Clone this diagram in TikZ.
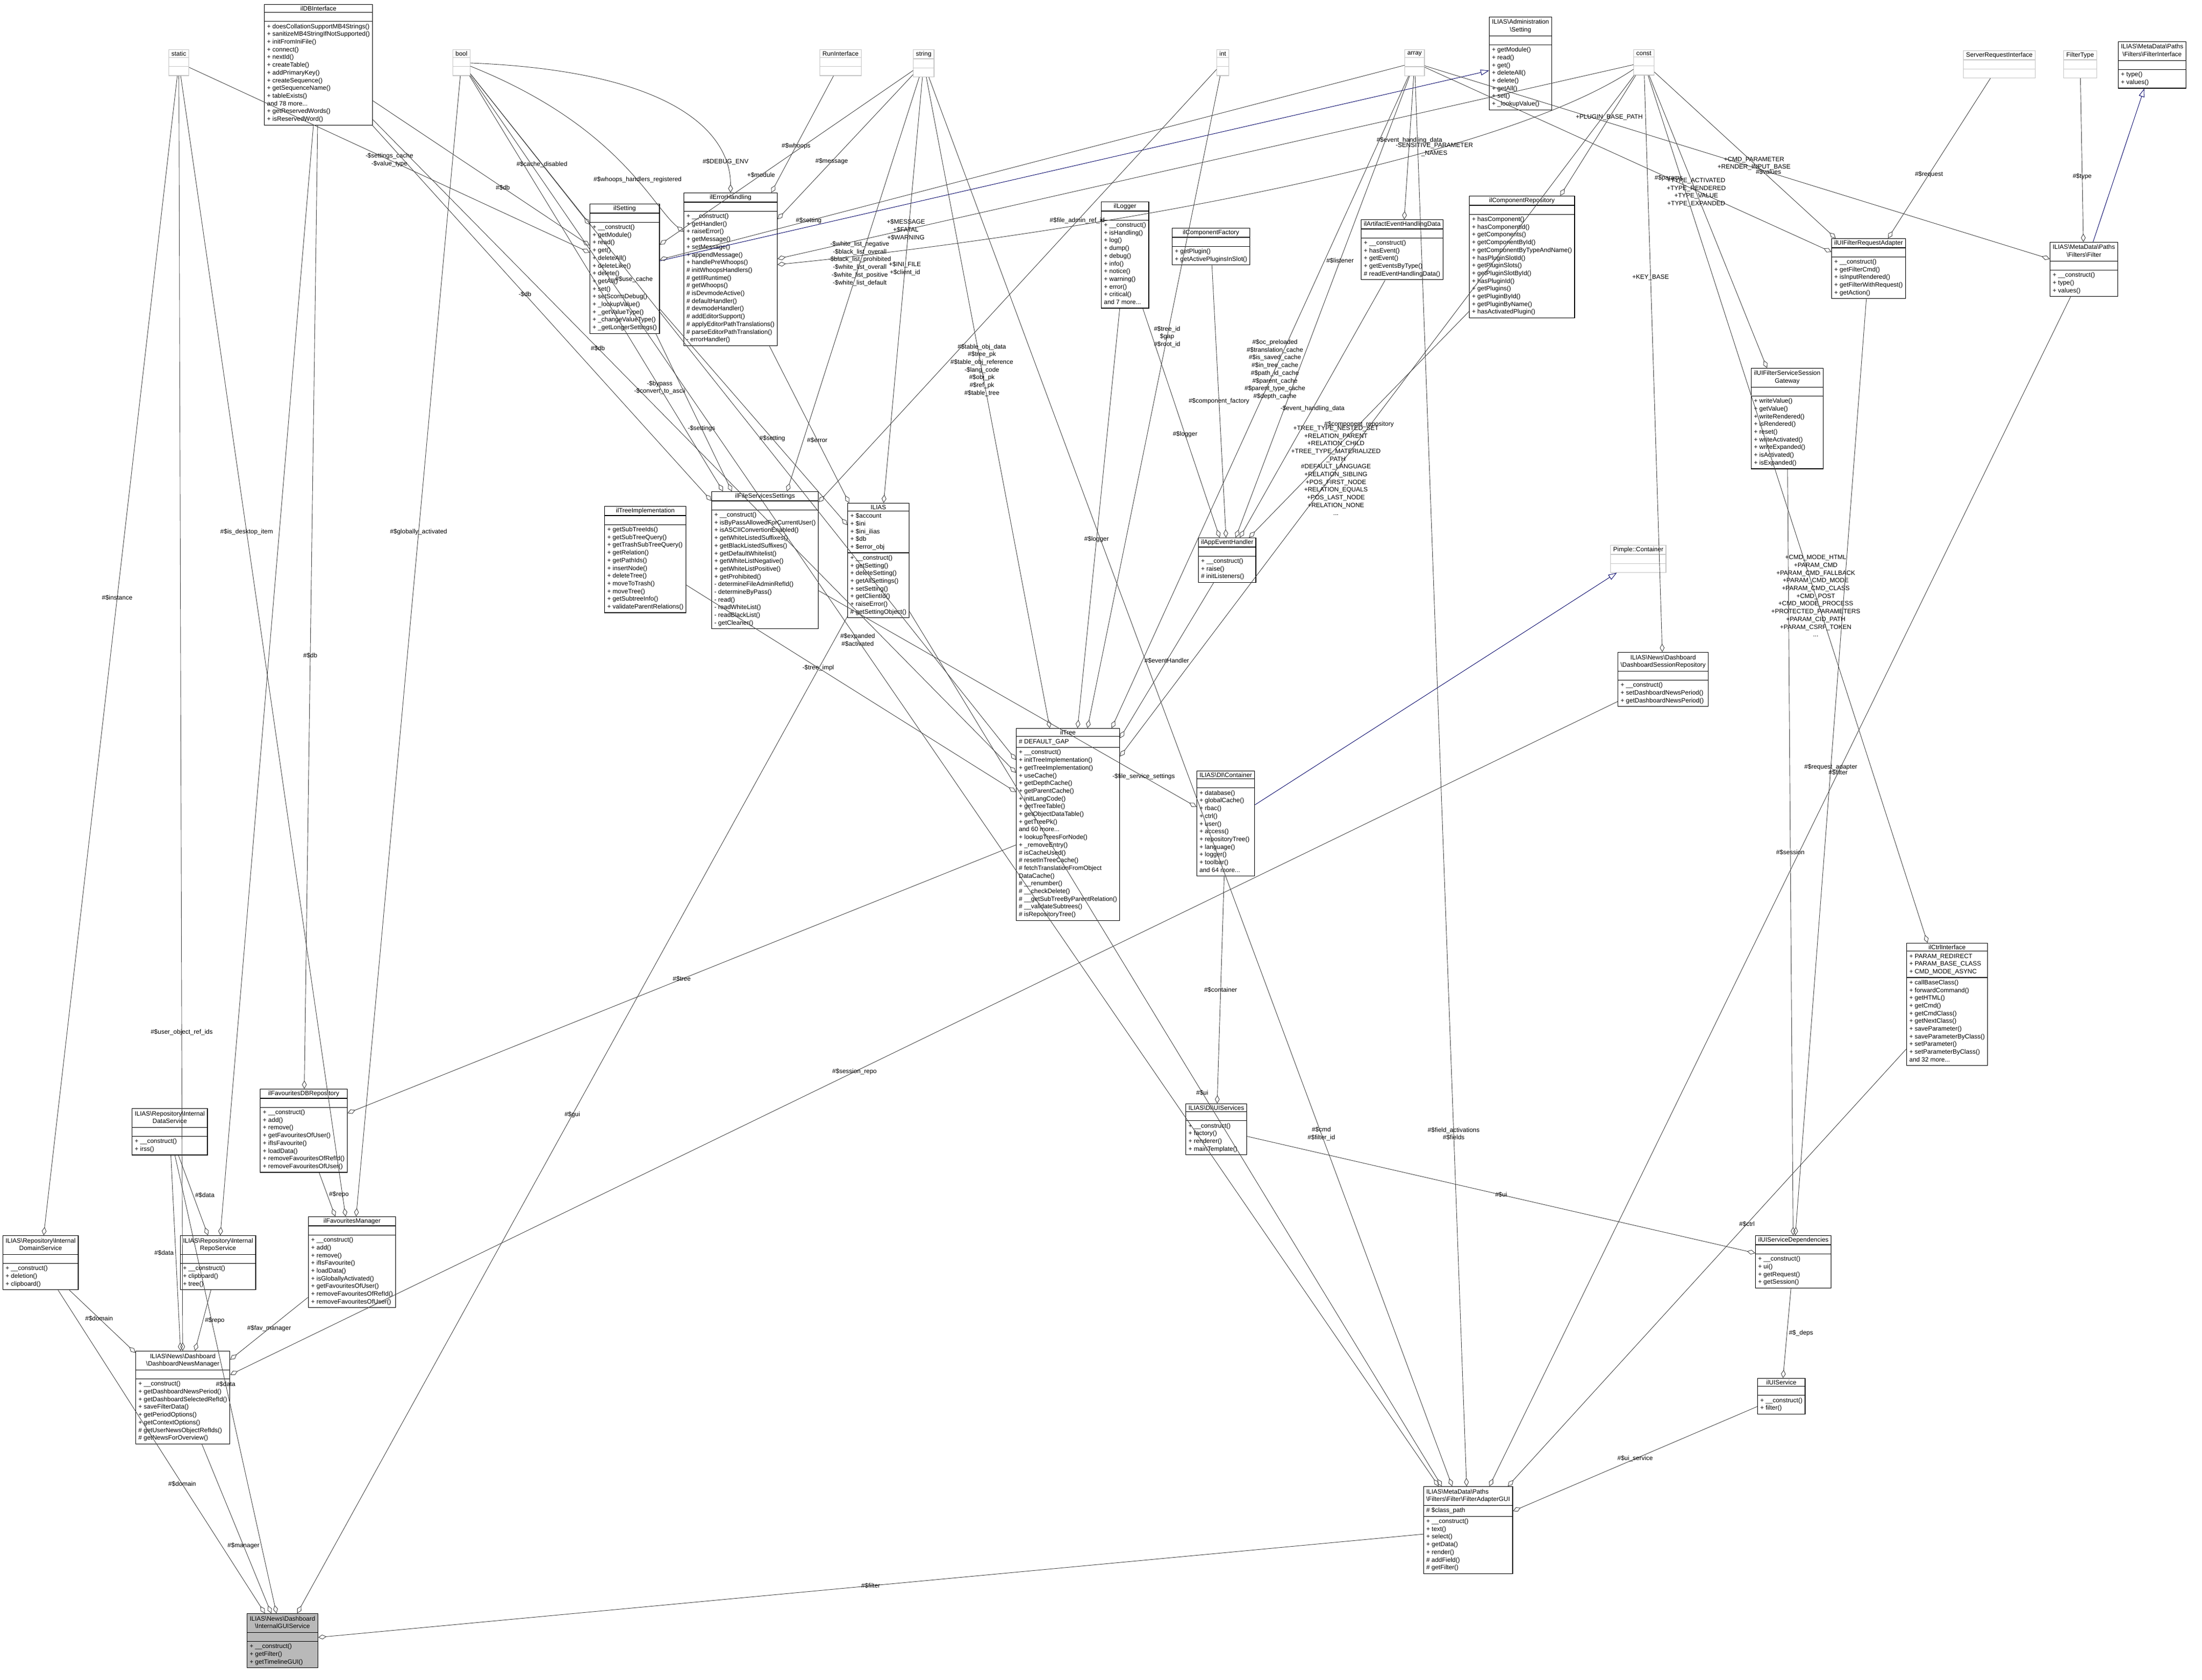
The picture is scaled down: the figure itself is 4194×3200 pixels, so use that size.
\documentclass[tikz,border=0pt]{standalone}
\usepackage{fontspec}
\setmainfont{Liberation Sans}
\usetikzlibrary{shapes.multipart}
\usetikzlibrary{arrows.meta}
\newcommand\dxfont{\fontsize{12}{14.7}\selectfont}
\newcommand\ml[1]{\begin{tabular}{@{}l@{}}#1\end{tabular}}
\newcommand\mc[1]{\begin{tabular}{@{}c@{}}#1\end{tabular}}
\newcommand\cn{\_\_construct()}
\tikzset{cls/.style={rectangle split, rectangle split parts=3, draw=black, line width=1.2pt,
inner xsep=5pt, inner ysep=2.5pt, rectangle split part align={center,left,left},
rectangle split empty part height=11pt, font=\dxfont, anchor=north west},
ext/.style={cls, draw=gray!45},
cur/.style={cls, rectangle split part fill={gray!55}},
mem/.style={draw=black!75, line width=0.9pt, -{Diamond[open,length=16pt,width=9pt]}},
isa/.style={draw=blue!40!black, line width=0.9pt, -{Triangle[open,length=16pt,width=11pt]}},
lbl/.style={font=\dxfont, align=center}}
\begin{document}
\begin{tikzpicture}[x=1pt, y=-1pt]
\useasboundingbox (0,0) rectangle (4194,3200);

% types without documentation
\node[ext] (stat) at (321,94) {static\nodepart{two}\nodepart{three}};
\node[ext] (bool) at (862,94) {bool\nodepart{two}\nodepart{three}};
\node[ext] (run) at (1561,94) {RunInterface\nodepart{two}\nodepart{three}};
\node[ext] (str) at (1739,94) {string\nodepart{two}\nodepart{three}};
\node[ext] (int) at (2317,94) {int\nodepart{two}\nodepart{three}};
\node[ext] (arr) at (2675,94) {array\nodepart{two}\nodepart{three}};
\node[ext] (cnst) at (3111,94) {const\nodepart{two}\nodepart{three}};
\node[ext] (sri) at (3739,96) {ServerRequestInterface\nodepart{two}\nodepart{three}};
\node[ext] (ftype) at (3930,96) {FilterType\nodepart{two}\nodepart{three}};
\node[ext] (pimple) at (3067,1038) {Pimple::Container\nodepart{two}\nodepart{three}};

% classes
\node[cls] (dbi) at (503,8) {ilDBInterface\nodepart{two}\nodepart{three}\ml{+ doesCollationSupportMB4Strings()\\+ sanitizeMB4StringIfNotSupported()\\+ initFromIniFile()\\+ connect()\\+ nextId()\\+ createTable()\\+ addPrimaryKey()\\+ createSequence()\\+ getSequenceName()\\+ tableExists()\\and 78 more...\\+ getReservedWords()\\+ isReservedWord()}};
\node[cls] (set) at (2836,32) {\mc{ILIAS\textbackslash Administration\\\textbackslash Setting}\nodepart{two}\nodepart{three}\ml{+ getModule()\\+ read()\\+ get()\\+ deleteAll()\\+ delete()\\+ getAll()\\+ set()\\+ \_lookupValue()}};
\node[cls] (fint) at (4034,79) {\mc{ILIAS\textbackslash MetaData\textbackslash Paths\\\textbackslash Filters\textbackslash FilterInterface}\nodepart{two}\nodepart{three}\ml{+ type()\\+ values()}};
\node[cls] (ilset) at (1123,388) {ilSetting\nodepart{two}\nodepart{three}\ml{+ \cn\\+ getModule()\\+ read()\\+ get()\\+ deleteAll()\\+ deleteLike()\\+ delete()\\+ getAll()\\+ set()\\+ setScormDebug()\\+ \_lookupValue()\\+ \_getValueType()\\+ \_changeValueType()\\+ \_getLongerSettings()}};
\node[cls] (err) at (1302,367) {ilErrorHandling\nodepart{two}\nodepart{three}\ml{+ \cn\\+ getHandler()\\+ raiseError()\\+ getMessage()\\+ setMessage()\\+ appendMessage()\\+ handlePreWhoops()\\\# initWhoopsHandlers()\\\# getIlRuntime()\\\# getWhoops()\\\# isDevmodeActive()\\\# defaultHandler()\\\# devmodeHandler()\\\# addEditorSupport()\\\# applyEditorPathTranslations()\\\# parseEditorPathTranslation()\\- errorHandler()}};
\node[cls] (log) at (2097,384) {ilLogger\nodepart{two}\nodepart{three}\ml{+ \cn\\+ isHandling()\\+ log()\\+ dump()\\+ debug()\\+ info()\\+ notice()\\+ warning()\\+ error()\\+ critical()\\and 7 more...}};
\node[cls] (cfac) at (2232,434) {ilComponentFactory\nodepart{two}\nodepart{three}\ml{+ getPlugin()\\+ getActivePluginsInSlot()}};
\node[cls] (aehd) at (2592,418) {ilArtifactEventHandlingData\nodepart{two}\nodepart{three}\ml{+ \cn\\+ hasEvent()\\+ getEvent()\\+ getEventsByType()\\\# readEventHandlingData()}};
\node[cls] (crep) at (2798,373) {ilComponentRepository\nodepart{two}\nodepart{three}\ml{+ hasComponent()\\+ hasComponentId()\\+ getComponents()\\+ getComponentById()\\+ getComponentByTypeAndName()\\+ hasPluginSlotId()\\+ getPluginSlots()\\+ getPluginSlotById()\\+ hasPluginId()\\+ getPlugins()\\+ getPluginById()\\+ getPluginByName()\\+ hasActivatedPlugin()}};
\node[cls] (fra) at (3488,454) {ilUIFilterRequestAdapter\nodepart{two}\nodepart{three}\ml{+ \cn\\+ getFilterCmd()\\+ isInputRendered()\\+ getFilterWithRequest()\\+ getAction()}};
\node[cls] (filt) at (3904,461) {\mc{ILIAS\textbackslash MetaData\textbackslash Paths\\\textbackslash Filters\textbackslash Filter}\nodepart{two}\nodepart{three}\ml{+ \cn\\+ type()\\+ values()}};
\node[cls] (fssg) at (3335,701) {\mc{ilUIFilterServiceSession\\Gateway}\nodepart{two}\nodepart{three}\ml{+ writeValue()\\+ getValue()\\+ writeRendered()\\+ isRendered()\\+ reset()\\+ writeActivated()\\+ writeExpanded()\\+ isActivated()\\+ isExpanded()}};
\node[cls] (timpl) at (1151,964) {ilTreeImplementation\nodepart{two}\nodepart{three}\ml{+ getSubTreeIds()\\+ getSubTreeQuery()\\+ getTrashSubTreeQuery()\\+ getRelation()\\+ getPathIds()\\+ insertNode()\\+ deleteTree()\\+ moveToTrash()\\+ moveTree()\\+ getSubtreeInfo()\\+ validateParentRelations()}};
\node[cls] (fss) at (1355,936) {ilFileServicesSettings\nodepart{two}\nodepart{three}\ml{+ \cn\\+ isByPassAllowedForCurrentUser()\\+ isASCIIConvertionEnabled()\\+ getWhiteListedSuffixes()\\+ getBlackListedSuffixes()\\+ getDefaultWhitelist()\\+ getWhiteListNegative()\\+ getWhiteListPositive()\\+ getProhibited()\\- determineFileAdminRefId()\\- determineByPass()\\- read()\\- readWhiteList()\\- readBlackList()\\- getCleaner()}};
\node[cls] (ilias) at (1614,958) {ILIAS\nodepart{two}\ml{+ \$account\\+ \$ini\\+ \$ini\_ilias\\+ \$db\\+ \$error\_obj}\nodepart{three}\ml{+ \cn\\+ getSetting()\\+ deleteSetting()\\+ getAllSettings()\\+ setSetting()\\+ getClientId()\\+ raiseError()\\\# getSettingObject()}};
\node[cls] (aeh) at (2282,1024) {ilAppEventHandler\nodepart{two}\nodepart{three}\ml{+ \cn\\+ raise()\\\# initListeners()}};
\node[cls] (dsr) at (3081,1242) {\mc{ILIAS\textbackslash News\textbackslash Dashboard\\\textbackslash DashboardSessionRepository}\nodepart{two}\nodepart{three}\ml{+ \cn\\+ setDashboardNewsPeriod()\\+ getDashboardNewsPeriod()}};
\node[cls] (tree) at (1935,1387) {ilTree\nodepart{two}\ml{\# DEFAULT\_GAP}\nodepart{three}\ml{+ \cn\\+ initTreeImplementation()\\+ getTreeImplementation()\\+ useCache()\\+ getDepthCache()\\+ getParentCache()\\+ initLangCode()\\+ getTreeTable()\\+ getObjectDataTable()\\+ getTreePk()\\and 60 more...\\+ lookupTreesForNode()\\+ \_removeEntry()\\\# isCacheUsed()\\\# resetInTreeCache()\\\# fetchTranslationFromObject\\DataCache()\\\# \_\_renumber()\\\# \_\_checkDelete()\\\# \_\_getSubTreeByParentRelation()\\\# \_\_validateSubtrees()\\\# isRepositoryTree()}};
\node[cls] (dic) at (2279,1468) {ILIAS\textbackslash DI\textbackslash Container\nodepart{two}\nodepart{three}\ml{+ database()\\+ globalCache()\\+ rbac()\\+ ctrl()\\+ user()\\+ access()\\+ repositoryTree()\\+ language()\\+ logger()\\+ toolbar()\\and 64 more...}};
\node[cls] (ctrl) at (3631,1796) {ilCtrlInterface\nodepart{two}\ml{+ PARAM\_REDIRECT\\+ PARAM\_BASE\_CLASS\\+ CMD\_MODE\_ASYNC}\nodepart{three}\ml{+ callBaseClass()\\+ forwardCommand()\\+ getHTML()\\+ getCmd()\\+ getCmdClass()\\+ getNextClass()\\+ saveParameter()\\+ saveParameterByClass()\\+ setParameter()\\+ setParameterByClass()\\and 32 more...}};
\node[cls] (uis) at (2258,2102) {ILIAS\textbackslash DI\textbackslash UIServices\nodepart{two}\nodepart{three}\ml{+ \cn\\+ factory()\\+ renderer()\\+ mainTemplate()}};
\node[cls] (uisd) at (3343,2353) {ilUIServiceDependencies\nodepart{two}\nodepart{three}\ml{+ \cn\\+ ui()\\+ getRequest()\\+ getSession()}};
\node[cls] (uisv) at (3347,2625) {ilUIService\nodepart{two}\nodepart{three}\ml{+ \cn\\+ filter()}};
\node[cls] (fag) at (2711,2831) {\ml{ILIAS\textbackslash MetaData\textbackslash Paths\\\textbackslash Filters\textbackslash Filter\textbackslash FilterAdapterGUI}\nodepart{two}\ml{\# \$class\_path}\nodepart{three}\ml{+ \cn\\+ text()\\+ select()\\+ getData()\\+ render()\\\# addField()\\\# getFilter()}};
\node[cls] (dsvc) at (251,2111) {\mc{ILIAS\textbackslash Repository\textbackslash Internal\\DataService}\nodepart{two}\nodepart{three}\ml{+ \cn\\+ irss()}};
\node[cls] (fdb) at (495,2074) {ilFavouritesDBRepository\nodepart{two}\nodepart{three}\ml{+ \cn\\+ add()\\+ remove()\\+ getFavouritesOfUser()\\+ ifIsFavourite()\\+ loadData()\\+ removeFavouritesOfRefId()\\+ removeFavouritesOfUser()}};
\node[cls] (dom) at (5,2353) {\mc{ILIAS\textbackslash Repository\textbackslash Internal\\DomainService}\nodepart{two}\nodepart{three}\ml{+ \cn\\+ deletion()\\+ clipboard()}};
\node[cls] (repo) at (343,2353) {\mc{ILIAS\textbackslash Repository\textbackslash Internal\\RepoService}\nodepart{two}\nodepart{three}\ml{+ \cn\\+ clipboard()\\+ tree()}};
\node[cls] (fman) at (587,2317) {ilFavouritesManager\nodepart{two}\nodepart{three}\ml{+ \cn\\+ add()\\+ remove()\\+ ifIsFavourite()\\+ loadData()\\+ isGloballyActivated()\\+ getFavouritesOfUser()\\+ removeFavouritesOfRefId()\\+ removeFavouritesOfUser()}};
\node[cls] (dnm) at (258,2573) {\mc{ILIAS\textbackslash News\textbackslash Dashboard\\\textbackslash DashboardNewsManager}\nodepart{two}\nodepart{three}\ml{+ \cn\\+ getDashboardNewsPeriod()\\+ getDashboardSelectedRefId()\\+ saveFilterData()\\+ getPeriodOptions()\\+ getContextOptions()\\\# getUserNewsObjectRefIds()\\\# getNewsForOverview()}};
\node[cur] (igs) at (470,3073) {\mc{ILIAS\textbackslash News\textbackslash Dashboard\\\textbackslash InternalGUIService}\nodepart{two}\nodepart{three}\ml{+ \cn\\+ getFilter()\\+ getTimelineGUI()}};

% inheritance
\draw[isa] (ilset) -- (set);
\draw[isa] (filt) -- (fint);
\draw[isa] (dic) -- (pimple);

% members
\draw[mem] (stat) -- node[lbl]{-\$settings\_cache\\-\$value\_type} (ilset);
\draw[mem] (stat) -- node[lbl, pos=0.45]{\#\$instance} (dom);
\draw[mem] (stat) -- node[lbl, pos=0.75]{\#\$user\_object\_ref\_ids} (dnm);
\draw[mem] (stat) -- node[lbl, pos=0.4]{\#\$is\_desktop\_item} (fman);
\draw[mem] (dbi) -- node[lbl, pos=0.6]{\#\$db} (ilset);
\draw[mem] (dbi) -- node[lbl, pos=0.45]{-\$db} (fss);
\draw[mem] (dbi) -- node[lbl, pos=0.35]{\#\$db} (tree);
\draw[mem] (dbi) -- node[lbl, pos=0.55]{\#\$db} (fdb);
\draw[mem] (dbi) -- (repo);
\draw[mem] (bool) -- node[lbl, pos=0.6]{\#\$cache\_disabled} (ilset);
\draw[mem] (bool) .. controls +(300,120) and +(-150,-120) .. node[lbl, pos=0.6]{\#\$whoops\_handlers\_registered} (err);
\draw[mem] (bool) .. controls +(500,20) and +(0,-200) .. node[lbl, pos=0.75]{\#\$DEBUG\_ENV} (err);
\draw[mem] (bool) -- node[lbl, pos=0.75]{-\$bypass\\-\$convert\_to\_ascii} (fss);
\draw[mem] (bool) -- node[lbl, pos=0.3]{\#\$use\_cache} (tree);
\draw[mem] (bool) -- node[lbl, pos=0.4]{\#\$globally\_activated} (fman);
\draw[mem] (bool) -- node[lbl, pos=0.4]{\#\$expanded\\\#\$activated} (fag);
\draw[mem] (run) -- node[lbl, pos=0.6]{\#\$whoops} (err);
\draw[mem] (str) -- node[lbl, pos=0.6]{+\$module} (ilset);
\draw[mem] (str) -- node[lbl, pos=0.6]{\#\$message} (err);
\draw[mem] (str) -- node[lbl, pos=0.45]{-\$white\_list\_negative\\-\$black\_list\_overall\\-\$black\_list\_prohibited\\-\$white\_list\_overall\\-\$white\_list\_positive\\-\$white\_list\_default} (fss);
\draw[mem] (str) -- node[lbl, pos=0.45]{+\$INI\_FILE\\+\$client\_id} (ilias);
\draw[mem] (str) -- node[lbl, pos=0.45]{\#\$table\_obj\_data\\\#\$tree\_pk\\\#\$table\_obj\_reference\\-\$lang\_code\\\#\$obj\_pk\\\#\$ref\_pk\\\#\$table\_tree} (tree);
\draw[mem] (str) -- node[lbl, pos=0.75]{\#\$cmd\\\#\$filter\_id} (fag);
\draw[mem] (int) -- node[lbl, pos=0.35]{\#\$file\_admin\_ref\_id} (fss);
\draw[mem] (int) -- node[lbl, pos=0.4]{\#\$tree\_id\\\$gap\\\#\$root\_id} (tree);
\draw[mem] (arr) -- node[lbl, pos=0.8]{\#\$setting} (ilset);
\draw[mem] (arr) -- node[lbl, pos=0.45]{\#\$event\_handling\_data} (aehd);
\draw[mem] (arr) -- node[lbl, pos=0.4]{\#\$listener} (aeh);
\draw[mem] (arr) -- node[lbl, pos=0.45]{\#\$oc\_preloaded\\\#\$translation\_cache\\\#\$is\_saved\_cache\\\#\$in\_tree\_cache\\\#\$path\_id\_cache\\\#\$parent\_cache\\\#\$parent\_type\_cache\\\#\$depth\_cache} (tree);
\draw[mem] (arr) -- node[lbl, pos=0.6]{\#\$params} (fra);
\draw[mem] (arr) -- node[lbl, pos=0.55]{\#\$values} (filt);
\draw[mem] (arr) -- node[lbl, pos=0.75]{\#\$field\_activations\\\#\$fields} (fag);
\draw[mem] (cnst) -- node[lbl, pos=0.85]{+\$MESSAGE\\+\$FATAL\\+\$WARNING} (err);
\draw[mem] (cnst) .. controls +(-300,200) and +(600,-60) .. node[lbl, pos=0.3]{-SENSITIVE\_PARAMETER\\\_NAMES} (err);
\draw[mem] (cnst) -- node[lbl, pos=0.35]{+PLUGIN\_BASE\_PATH} (crep);
\draw[mem] (cnst) -- node[lbl, pos=0.58]{+TREE\_TYPE\_NESTED\_SET\\+RELATION\_PARENT\\+RELATION\_CHILD\\+TREE\_TYPE\_MATERIALIZED\\\_PATH\\\#DEFAULT\_LANGUAGE\\+RELATION\_SIBLING\\+POS\_FIRST\_NODE\\+RELATION\_EQUALS\\+POS\_LAST\_NODE\\+RELATION\_NONE\\...} (tree);
\draw[mem] (cnst) -- node[lbl, pos=0.35]{+KEY\_BASE} (dsr);
\draw[mem] (cnst) -- node[lbl, pos=0.4]{+TYPE\_ACTIVATED\\+TYPE\_RENDERED\\+TYPE\_VALUE\\+TYPE\_EXPANDED} (fssg);
\draw[mem] (cnst) -- node[lbl, pos=0.55]{+CMD\_PARAMETER\\+RENDER\_INPUT\_BASE} (fra);
\draw[mem] (cnst) -- node[lbl, pos=0.6]{+CMD\_MODE\_HTML\\+PARAM\_CMD\\+PARAM\_CMD\_FALLBACK\\+PARAM\_CMD\_MODE\\+PARAM\_CMD\_CLASS\\+CMD\_POST\\+CMD\_MODE\_PROCESS\\+PROTECTED\_PARAMETERS\\+PARAM\_CID\_PATH\\+PARAM\_CSRF\_TOKEN\\...} (ctrl);
\draw[mem] (sri) -- node[lbl, pos=0.6]{\#\$request} (fra);
\draw[mem] (ftype) -- node[lbl, pos=0.6]{\#\$type} (filt);
\draw[mem] (ilset) -- node[lbl, pos=0.6]{-\$settings} (fss);
\draw[mem] (ilset) -- node[lbl, pos=0.6]{\#\$setting} (ilias);
\draw[mem] (err) -- node[lbl, pos=0.6]{\#\$error} (ilias);
\draw[mem] (log) -- node[lbl, pos=0.55]{\#\$logger} (aeh);
\draw[mem] (log) -- node[lbl, pos=0.55]{\#\$logger} (tree);
\draw[mem] (cfac) -- node[lbl, pos=0.5]{\#\$component\_factory} (aeh);
\draw[mem] (aehd) -- node[lbl, pos=0.5]{-\$event\_handling\_data} (aeh);
\draw[mem] (crep) -- node[lbl, pos=0.5]{\#\$component\_repository} (aeh);
\draw[mem] (timpl) -- node[lbl, pos=0.4]{-\$tree\_impl} (tree);
\draw[mem] (aeh) -- node[lbl, pos=0.5]{\#\$eventHandler} (tree);
\draw[mem] (fss) -- node[lbl, pos=0.86]{-\$file\_service\_settings} (dic);
\draw[mem] (ilias) -- node[lbl, pos=0.5]{\#\$gui} (igs);
\draw[mem] (ilias) -- node[lbl, pos=0.55]{\#\$ui} (fag);
\draw[mem] (dic) -- node[lbl, pos=0.5]{\#\$container} (uis);
\draw[mem] (uis) -- node[lbl, pos=0.5]{\#\$ui} (uisd);
\draw[mem] (fssg) -- node[lbl, pos=0.5]{\#\$session} (uisd);
\draw[mem] (fra) -- node[lbl, pos=0.5]{\#\$request\_adapter} (uisd);
\draw[mem] (uisd) -- node[lbl, right]{\#\$\_deps} (uisv);
\draw[mem] (uisv) -- node[lbl, pos=0.5]{\#\$ui\_service} (fag);
\draw[mem] (ctrl) -- node[lbl, pos=0.4]{\#\$ctrl} (fag);
\draw[mem] (filt) -- node[lbl, pos=0.4]{\#\$filter} (fag);
\draw[mem] (fag) -- node[lbl, pos=0.5]{\#\$filter} (igs);
\draw[mem] (dsr) -- node[lbl, pos=0.55]{\#\$session\_repo} (dnm);
\draw[mem] (tree) -- node[lbl, pos=0.5]{\#\$tree} (fdb);
\draw[mem] (fdb) -- node[lbl, right]{\#\$repo} (fman);
\draw[mem] (dsvc) -- node[lbl, right]{\#\$data} (repo);
\draw[mem] (dsvc) -- node[lbl, left]{\#\$data} (dnm);
\draw[mem] (dsvc) -- node[lbl, pos=0.5]{\#\$data} (igs);
\draw[mem] (fman) -- node[lbl, pos=0.5]{\#\$fav\_manager} (dnm);
\draw[mem] (repo) -- node[lbl, right]{\#\$repo} (dnm);
\draw[mem] (dom) -- node[lbl, pos=0.45]{\#\$domain} (dnm);
\draw[mem] (dom) -- node[lbl, pos=0.6]{\#\$domain} (igs);
\draw[mem] (dnm) -- node[lbl, pos=0.6]{\#\$manager} (igs);
\end{tikzpicture}
\end{document}
